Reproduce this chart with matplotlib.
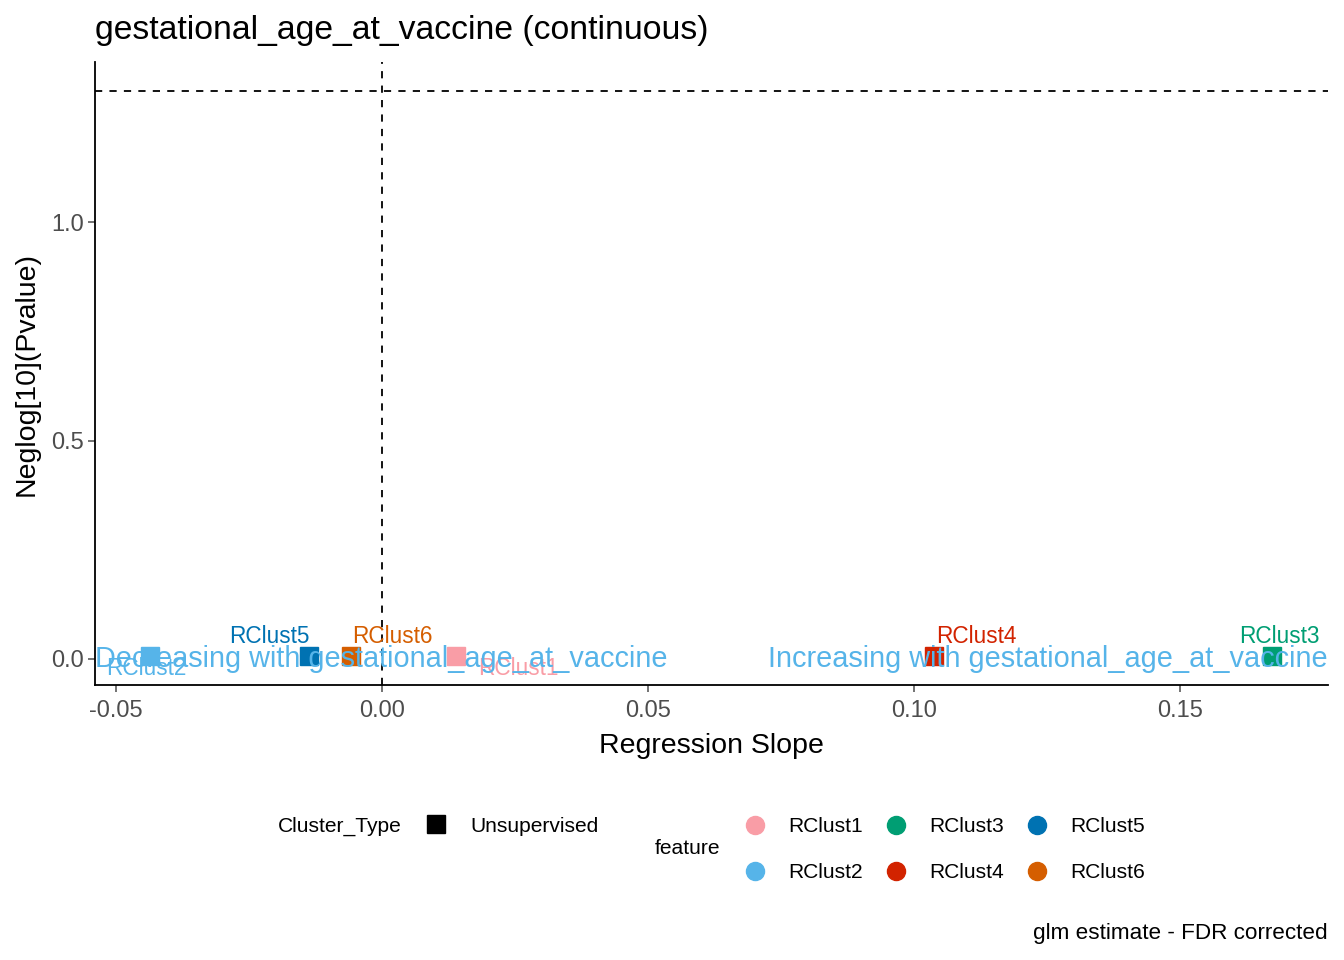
import matplotlib
matplotlib.use("Agg")
import matplotlib.pyplot as plt
from matplotlib.lines import Line2D

plt.rcParams['font.family'] = ['Liberation Sans', 'DejaVu Sans']

features = ["RClust1", "RClust2", "RClust3", "RClust4", "RClust5", "RClust6"]
slopes = [0.0139, -0.0436, 0.1673, 0.1038, -0.0137, -0.0058]
neglogp = [0.006, 0.006, 0.006, 0.006, 0.006, 0.006]
colors = ["#F99DA6", "#56B4E9", "#009E73", "#D22300", "#0072B2", "#D55E00"]
# label offsets (ggrepel-like) in data units
label_dx = [0.0118, -0.0007, 0.0013, 0.0079, -0.0075, 0.0077]
label_dy = [-0.028, -0.028, 0.045, 0.045, 0.045, 0.045]

fig = plt.figure(figsize=(13.44, 9.6), dpi=100)
ax = fig.add_axes([0.0707, 0.2865, 0.9173, 0.6485])
xmin, xmax = -0.05395, 0.1778
ax.set_xlim(xmin, xmax)
ax.set_ylim(-0.0595, 1.366)

ax.axhline(1.30103, color='black', ls=(0, (4, 4)), lw=1.3)
ax.axvline(0.0, color='black', ls=(0, (4, 4)), lw=1.3)

ax.text(xmin, 0.0, "Decreasing with gestational_age_at_vaccine", color="#56B4E9",
        fontsize=20.8, ha='left', va='center', zorder=5)
ax.text(xmax, 0.0, "Increasing with gestational_age_at_vaccine", color="#56B4E9",
        fontsize=20.8, ha='right', va='center', zorder=5)

for f, x, y, c, dx, dy in zip(features, slopes, neglogp, colors, label_dx, label_dy):
    ax.plot([x], [y], marker='s', ms=13.5, color=c, ls='none', zorder=4)
    ax.text(x + dx, y + dy, f, color=c, fontsize=16.3, ha='center', va='center', zorder=3)

ax.set_xticks([-0.05, 0.0, 0.05, 0.10, 0.15])
ax.set_xticklabels(["-0.05", "0.00", "0.05", "0.10", "0.15"])
ax.set_yticks([0.0, 0.5, 1.0])
ax.set_yticklabels(["0.0", "0.5", "1.0"])
ax.tick_params(axis='both', labelsize=17, colors='#4D4D4D', length=5, width=1.1)
ax.tick_params(axis='x', pad=6)
ax.tick_params(axis='y', pad=3)
for s in ['top', 'right']:
    ax.spines[s].set_visible(False)
for s in ['left', 'bottom']:
    ax.spines[s].set_linewidth(1.3)
ax.set_xlabel("Regression Slope", fontsize=20.5, labelpad=8)
ax.set_ylabel("Neglog[10](Pvalue)", fontsize=20.5, labelpad=8)

fig.text(95 / 1344, 1 - 31 / 960, "gestational_age_at_vaccine (continuous)", fontsize=24.3,
         ha='left', va='center')
fig.text(1328 / 1344, 1 - 933 / 960, "glm estimate - FDR corrected", fontsize=16.2,
         ha='right', va='center')

# legends
def fx(px):
    return px / 1344
def fy(py):
    return 1 - py / 960

fig.text(fx(278), fy(826), "Cluster_Type", fontsize=15.1, ha='left', va='center')
fig.add_artist(Line2D([fx(436)], [fy(824)], marker='s', ms=13, color='black', ls='none',
                      transform=fig.transFigure))
fig.text(fx(470), fy(826), "Unsupervised", fontsize=15.1, ha='left', va='center')
fig.text(fx(655), fy(849), "feature", fontsize=15.1, ha='left', va='center')
pos = [(755, 825), (755, 871), (896, 825), (896, 871), (1037, 825), (1037, 871)]
for f, c, (px, py) in zip(features, colors, pos):
    fig.add_artist(Line2D([fx(px)], [fy(py)], marker='o', ms=13, color=c, ls='none',
                          transform=fig.transFigure))
    fig.text(fx(px + 33), fy(py + 1), f, fontsize=15.1, ha='left', va='center')

fig.savefig("out.png", dpi=100)
